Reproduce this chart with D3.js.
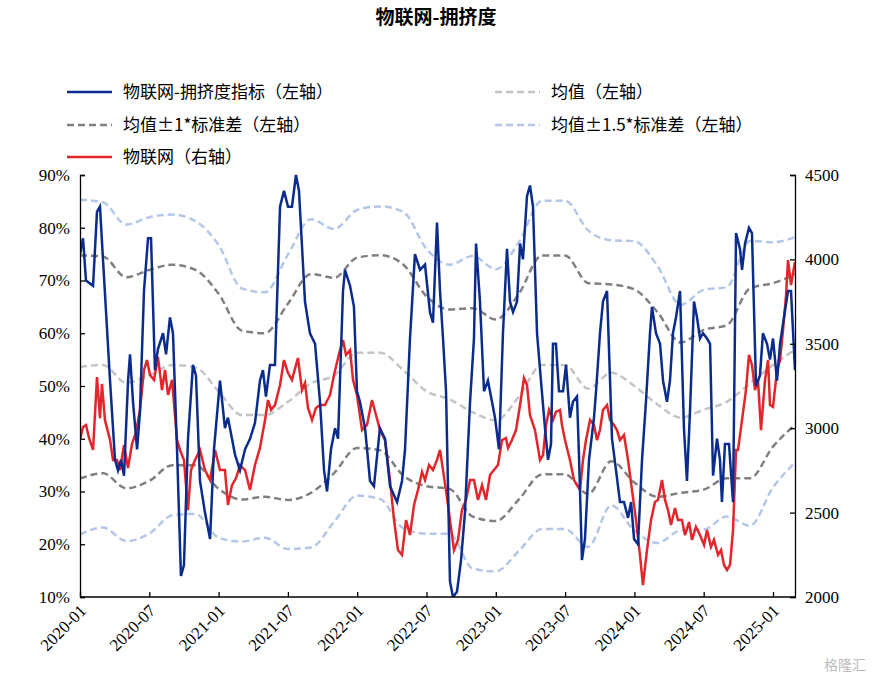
<!DOCTYPE html>
<html><head><meta charset="utf-8">
<script src="https://cdn.jsdelivr.net/npm/d3@7"></script>
<style>body{margin:0;background:#fff}</style>
</head><body>
<svg id="chart" width="872" height="680"></svg>
<script>
// 时间用 2020-01 起算的月份数
var tickLabels = ["2020-01","2020-07","2021-01","2021-07","2022-01","2022-07","2023-01","2023-07","2024-01","2024-07","2025-01"];

// 拥挤度指标 (%) [月, 值]
var crowd = [[0,75],[.26,78],[.52,70],[1.13,69],[1.47,83],[1.73,84],[1.99,74],[2.6,51],[3.03,36],[3.29,34],[3.55,36],[3.81,33],[4.16,51],[4.33,56],[4.59,47],[4.94,38],[5.19,45],[5.54,68],[5.89,78],[6.15,78],[6.49,53],[6.75,57],[7.19,60],[7.45,56],[7.79,63],[8.05,60],[8.4,38],[8.74,14],[9.0,16],[9.35,40],[9.78,54],[10.04,52],[10.39,32],[10.82,26],[11.26,21],[11.6,38],[12.12,51],[12.55,42],[12.81,44],[13.16,40],[13.42,37],[13.85,34],[14.29,38],[14.72,40],[15.15,43],[15.58,51],[15.84,53],[16.1,48],[16.45,54],[16.88,54],[17.32,84],[17.66,87],[18.01,84],[18.35,84],[18.7,90],[18.96,87],[19.48,66],[19.91,60],[20.35,58],[20.78,47],[21.13,34],[21.39,30],[21.73,38],[22.08,42],[22.34,40],[22.77,68],[22.94,72],[23.38,69],[23.72,65],[23.98,49],[24.24,47],[24.68,42],[25.11,32],[25.45,31],[25.97,42],[26.41,40],[26.84,31],[27.45,28],[27.88,32],[28.14,38],[28.57,59],[29.0,75],[29.44,72],[29.87,73],[30.3,64],[30.56,62],[30.91,81],[31.17,68],[31.43,59],[31.69,49],[32.03,13],[32.29,10],[32.64,11],[32.99,17],[33.33,26],[33.77,47],[34.11,59],[34.29,77],[34.63,66],[34.98,49],[35.32,51],[35.67,47],[35.93,44],[36.28,38],[36.62,60],[36.97,76],[37.23,66],[37.49,64],[37.84,66],[38.1,77],[38.35,74],[38.7,86],[38.96,88],[39.22,84],[39.57,60],[39.91,51],[40.26,42],[40.52,36],[40.78,39],[40.95,58],[41.21,58],[41.47,49],[41.82,49],[42.08,54],[42.42,44],[42.68,47],[43.03,48],[43.2,37],[43.46,17],[43.72,21],[44.07,36],[44.5,44],[44.68,49],[45.02,60],[45.28,66],[45.63,68],[46.06,40],[46.41,34],[46.75,28],[47.1,28],[47.45,25],[47.71,28],[47.97,21],[48.31,20],[48.66,36],[49.0,47],[49.35,60],[49.52,65],[49.87,60],[50.22,58],[50.48,51],[50.82,47],[51.08,51],[51.34,60],[51.6,63],[51.95,68],[52.29,42],[52.55,32],[52.81,45],[53.16,66],[53.42,63],[53.68,59],[53.94,60],[54.29,59],[54.55,58],[54.81,33],[55.15,40],[55.41,36],[55.58,28],[55.84,39],[56.19,39],[56.54,28],[56.8,79],[57.14,76],[57.32,72],[57.58,77],[57.92,80],[58.18,79],[58.53,50],[58.87,52],[59.13,60],[59.48,58],[59.74,55],[60.0,59],[60.35,51],[60.61,58],[60.95,63],[61.3,68],[61.56,68],[61.9,53]];

// 物联网指数 (右轴) [月, 值]
var index = [[0,2930],[.26,3007],[.52,3019],[.78,2942],[1.13,2871],[1.47,3303],[1.73,3060],[1.9,3262],[2.16,3049],[2.6,2930],[2.86,2812],[3.2,2812],[3.46,2752],[3.81,2900],[4.16,2764],[4.5,2906],[4.85,2977],[5.19,3108],[5.54,3345],[5.8,3404],[6.06,3315],[6.41,3286],[6.75,3422],[7.1,3226],[7.36,3345],[7.62,3197],[7.97,3286],[8.4,2930],[8.66,2871],[9.0,2812],[9.35,2515],[9.61,2752],[9.96,2812],[10.39,2871],[10.82,2752],[11.26,2693],[11.69,2871],[12.12,2752],[12.55,2752],[12.81,2545],[13.16,2663],[13.51,2705],[13.85,2782],[14.29,2752],[14.72,2634],[15.15,2782],[15.58,2883],[16.02,3049],[16.28,3167],[16.54,3108],[16.88,3137],[17.32,3256],[17.66,3404],[18.01,3327],[18.35,3286],[18.7,3374],[18.87,3416],[19.22,3226],[19.48,3268],[19.74,3120],[20.09,3049],[20.43,3120],[20.78,3137],[21.21,3137],[21.65,3197],[21.99,3315],[22.51,3463],[22.77,3522],[23.03,3434],[23.38,3463],[23.64,3286],[23.98,3197],[24.42,2989],[24.85,3019],[25.28,3167],[25.63,3078],[25.97,2989],[26.41,2930],[26.84,2693],[27.19,2456],[27.53,2278],[27.88,2249],[28.23,2456],[28.57,2367],[28.92,2545],[29.26,2634],[29.61,2741],[29.87,2693],[30.22,2782],[30.56,2752],[30.91,2812],[31.17,2871],[31.43,2752],[31.77,2592],[32.03,2456],[32.38,2278],[32.73,2338],[33.07,2515],[33.42,2575],[33.77,2693],[34.11,2693],[34.46,2575],[34.81,2663],[35.15,2575],[35.5,2723],[35.84,2752],[36.19,2782],[36.54,2930],[36.88,2942],[37.06,2883],[37.4,2930],[37.75,2989],[38.1,3137],[38.44,3297],[38.7,3256],[38.96,3078],[39.39,2989],[39.83,2812],[40.09,2841],[40.35,3019],[40.61,3108],[40.95,3049],[41.21,3096],[41.56,3108],[41.73,3019],[41.99,2930],[42.42,2812],[42.77,2693],[43.03,2663],[43.29,2634],[43.55,2812],[43.81,2930],[44.16,3049],[44.5,3019],[44.76,2930],[45.02,2989],[45.28,3108],[45.63,3137],[45.89,3049],[46.23,3019],[46.49,2989],[46.75,2930],[47.1,2960],[47.45,2812],[47.79,2634],[48.14,2456],[48.48,2249],[48.74,2071],[49.09,2278],[49.44,2456],[49.78,2563],[50.04,2575],[50.39,2693],[50.65,2575],[50.91,2515],[51.17,2427],[51.52,2527],[51.77,2456],[52.12,2456],[52.38,2367],[52.73,2444],[52.99,2338],[53.33,2415],[53.68,2367],[54.03,2308],[54.29,2397],[54.63,2296],[54.89,2338],[55.24,2249],[55.5,2278],[55.76,2190],[56.02,2160],[56.28,2190],[56.54,2397],[56.8,2871],[56.97,2871],[57.32,3049],[57.66,3226],[57.92,3434],[58.18,3374],[58.44,3226],[58.7,3286],[58.96,2989],[59.31,3286],[59.57,3404],[59.74,3137],[60.0,3126],[60.35,3345],[60.61,3404],[60.87,3582],[61.13,3789],[61.3,3996],[61.56,3848],[61.9,3985]];

// 均值与 ±1 标准差带，每两个月一个点
var bandMonths = [0,2,4,6,8,10,12,14,16,18,20,22,24,26,28,30,32,34,36,38,40,42,44,46,48,50,52,54,56,58,60,62];
var meanVals   = [53.6,54,50.6,52,54,53.5,49,44.5,44.5,47,50.5,52,56.3,56.3,53,49,47.5,45,43.5,48,54,54,49.5,52.5,50,46.5,44,45.5,47,50.5,54,57];
var upper1     = [75.4,74.5,70.5,72,73,72,68,61,60,66,71,71,74.5,74.5,74,67,64,65,62.5,66.5,75,75,70,69,68.6,64,58,60,61.5,67,70,71];
var lower1     = [33.1,33.4,30.5,32,35,35,31,29,29,28.8,29.5,34,38.4,37.5,34,31,30,25.5,24.3,27.5,33.5,33.5,30,35.5,32,29,29.5,29.7,32.5,31,39,42.6];

var svg = d3.select("#chart");
var L = 80, R = 795, T = 175, B = 597;
var x = d3.scaleLinear().domain([0, 60]).range([L, 773]);
var yL = d3.scaleLinear().domain([10, 90]).range([B, T]);
var yR = d3.scaleLinear().domain([2000, 4500]).range([B, T]);
var serif = "'Liberation Serif','Times New Roman',serif";

svg.append("text").attr("x", 436).attr("y", 24).attr("text-anchor", "middle")
    .style("font-family", "'Noto Sans CJK SC'").attr("font-weight", "bold").attr("font-size", 19)
    .text("物联网-拥挤度");

function band(k, sign) {
    return bandMonths.map(function(m, i) {
        var sd = (upper1[i] - lower1[i]) / 2;
        return [m, meanVals[i] + sign * k * sd];
    });
}
var bands = [
    {data: band(1.5, 1), color: "#b4c7e7"},
    {data: band(1.5, -1), color: "#b4c7e7"},
    {data: band(1, 1), color: "#808080"},
    {data: band(1, -1), color: "#808080"},
    {data: band(0, 1), color: "#c4c4c4"}
];

var g = svg.append("g");
g.append("clipPath").attr("id", "clip").append("rect")
    .attr("x", L).attr("y", T - 2).attr("width", R - L).attr("height", B - T + 2);
var plot = g.append("g").attr("clip-path", "url(#clip)");

var bandLine = d3.line().x(function(d) { return x(d[0]); }).y(function(d) { return yL(d[1]); })
    .curve(d3.curveMonotoneX);
bands.forEach(function(b) {
    plot.append("path").attr("d", bandLine(b.data)).attr("fill", "none")
        .attr("stroke", b.color).attr("stroke-width", 2.5).attr("stroke-dasharray", "7,4");
});

plot.append("path")
    .attr("d", d3.line().x(function(d) { return x(d[0]); }).y(function(d) { return yR(d[1]); })(index))
    .attr("fill", "none").attr("stroke", "#e3262b").attr("stroke-width", 2.5);

plot.append("path")
    .attr("d", d3.line().x(function(d) { return x(d[0]); }).y(function(d) { return yL(d[1]); })(crowd))
    .attr("fill", "none").attr("stroke", "#0b2c8c").attr("stroke-width", 2.5);

// 轴
var axL = svg.append("g").attr("transform", "translate(" + L + ",0)")
    .call(d3.axisLeft(yL).tickValues(d3.range(10, 91, 10)).tickSize(-5).tickPadding(10)
        .tickFormat(function(d) { return d + "%"; }));
var axR = svg.append("g").attr("transform", "translate(" + R + ",0)")
    .call(d3.axisRight(yR).tickValues(d3.range(2000, 4501, 500)).tickSize(-5).tickPadding(10)
        .tickFormat(d3.format("d")));
var axB = svg.append("g").attr("transform", "translate(0," + B + ")")
    .call(d3.axisBottom(x).tickValues(d3.range(0, 61, 6)).tickSize(-5).tickPadding(4)
        .tickFormat(function(d, i) { return tickLabels[i]; }));
axB.select(".domain").attr("d", "M" + L + ",0H" + R);
axB.selectAll("text").attr("text-anchor", "end")
    .attr("transform", "translate(4,12) rotate(-45)").attr("dy", 0);
[axL, axR, axB].forEach(function(a) {
    a.attr("font-family", null);
    a.selectAll("text").style("font-family", serif).attr("font-size", 17).attr("fill", "#000");
    a.selectAll("line,path").attr("stroke", "#000").attr("stroke-width", 1.3);
});

// 图例
var legend = [
    {x: 67, y: 92, color: "#0b2c8c", dash: null, text: "物联网-拥挤度指标（左轴）"},
    {x: 495, y: 92, color: "#c4c4c4", dash: "7,4", text: "均值（左轴）"},
    {x: 67, y: 125, color: "#808080", dash: "7,4", text: "均值±1*标准差（左轴）"},
    {x: 495, y: 125, color: "#b4c7e7", dash: "7,4", text: "均值±1.5*标准差（左轴）"},
    {x: 67, y: 157, color: "#e3262b", dash: null, text: "物联网（右轴）"}
];
legend.forEach(function(d) {
    svg.append("line").attr("x1", d.x).attr("x2", d.x + 45).attr("y1", d.y).attr("y2", d.y)
        .attr("stroke", d.color).attr("stroke-width", 2.5).attr("stroke-dasharray", d.dash);
    svg.append("text").attr("x", d.x + 56).attr("y", d.y + 6)
        .style("font-family", "'Noto Sans CJK SC'").attr("font-size", 17).text(d.text);
});

svg.append("text").attr("x", 866).attr("y", 670).attr("text-anchor", "end")
    .style("font-family", "'Noto Sans CJK SC'").attr("font-size", 14).attr("fill", "#bbb").text("格隆汇");
</script>
</body></html>
